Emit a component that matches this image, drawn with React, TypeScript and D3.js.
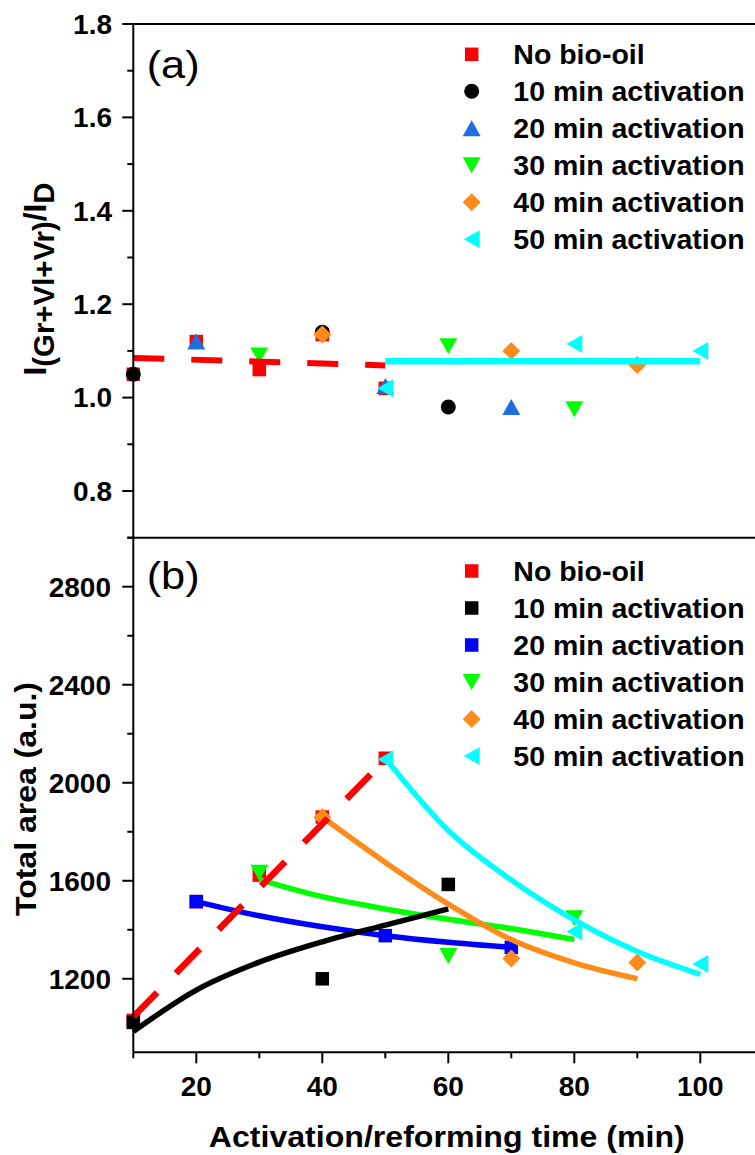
import React from "react";
import * as d3 from "d3";

// ---------- data ----------
const seriesNames = [
  "No bio-oil",
  "10 min activation",
  "20 min activation",
  "30 min activation",
  "40 min activation",
  "50 min activation",
];

// panel (a): I(Gr+Vl+Vr)/ID
const noBioX = [10, 20, 30, 40, 50];
const noBioTopY = [1.05, 1.12, 1.06, 1.135, 1.02];
const act10X = [10, 40, 60];
const act10TopY = [1.05, 1.14, 0.98];
const act20X = [20, 50, 70];
const act20TopY = [1.12, 1.025, 0.98];
const act30X = [30, 60, 80];
const act30TopY = [1.09, 1.11, 0.975];
const act40X = [40, 70, 90];
const act40TopY = [1.135, 1.1, 1.07];
const act50X = [50, 80, 100];
const act50TopY = [1.02, 1.115, 1.1];

const noBioFitTopX = [10, 50];
const noBioFitTopY = [1.085, 1.069];
const act50FitTopX = [50, 100];
const act50FitTopY = [1.078, 1.078];

// panel (b): total area
const noBioBotY = [1030, 1515, 1623, 1860, 2100];
const act10BotY = [1022, 1200, 1585];
const act20BotY = [1515, 1376, 1328];
const act30BotY = [1633, 1293, 1447];
const act40BotY = [1859, 1283, 1266];
const act50BotY = [2095, 1393, 1260];

const noBioFitBotX = [10, 50];
const noBioFitBotY = [1045, 2095];
const fit10X = [10, 20, 30, 40, 50, 60];
const fit10Y = [985, 1154, 1268, 1351, 1419, 1485];
const fit20X = [20, 30, 40, 50, 60, 70];
const fit20Y = [1515, 1457, 1412, 1376, 1349, 1328];
const fit30X = [30, 40, 50, 60, 70, 80];
const fit30Y = [1605, 1535, 1485, 1443, 1405, 1360];
const fit40X = [40, 50, 60, 70, 80, 90];
const fit40Y = [1860, 1675, 1505, 1360, 1265, 1200];
const fit50X = [50, 60, 70, 80, 90, 100];
const fit50Y = [2100, 1805, 1603, 1440, 1311, 1218];

const xTicks = [20, 40, 60, 80, 100];
const xMinorTicks = [10, 30, 50, 70, 90];
const yTopTicks = [0.8, 1.0, 1.2, 1.4, 1.6, 1.8];
const yTopMinor = [0.7, 0.9, 1.1, 1.3, 1.5, 1.7];
const yBotTicks = [1200, 1600, 2000, 2400, 2800];
const yBotMinor = [1000, 1400, 1800, 2200, 2600, 3000];

// ---------- style ----------
const FONT = "'Liberation Sans', Arial, Helvetica, sans-serif";
const RED = "#ff0000";
const BLACK = "#000000";
const BLUE_T = "#1c6fdc";
const BLUE = "#0000ff";
const GREEN = "#00ff00";
const ORANGE = "#ff8c1a";
const CYAN = "#00ffff";

const W = 755;
const H = 1155;

const x = d3.scaleLinear().domain([10, 110]).range([133.3, 763.3]);
const yTop = d3.scaleLinear().domain([0.7, 1.8]).range([537.7, 24]);
const yBot = d3.scaleLinear().domain([900, 3000]).range([1052.3, 537.7]);

type Shape = "square" | "circle" | "up" | "down" | "left" | "diamond";

function Marker({ shape, cx, cy, color }: { shape: Shape; cx: number; cy: number; color: string }) {
  if (shape === "square") return <rect x={cx - 6.75} y={cy - 6.75} width={13.5} height={13.5} fill={color} />;
  if (shape === "circle") return <circle cx={cx} cy={cy} r={7.5} fill={color} />;
  let d = "";
  if (shape === "up") d = `M${cx},${cy - 8}L${cx + 9},${cy + 8}L${cx - 9},${cy + 8}Z`;
  if (shape === "down") d = `M${cx - 9},${cy - 8}L${cx + 9},${cy - 8}L${cx},${cy + 8}Z`;
  if (shape === "left") d = `M${cx - 8},${cy}L${cx + 8},${cy - 9}L${cx + 8},${cy + 9}Z`;
  if (shape === "diamond") d = `M${cx},${cy - 9}L${cx + 9},${cy}L${cx},${cy + 9}L${cx - 9},${cy}Z`;
  return <path d={d} fill={color} />;
}

function Points({ xs, ys, y, shape, color }: { xs: number[]; ys: number[]; y: any; shape: Shape; color: string }) {
  return (
    <g>
      {xs.map((xv, i) => (
        <Marker key={i} shape={shape} cx={x(xv)} cy={y(ys[i])} color={color} />
      ))}
    </g>
  );
}

function Curve({ xs, ys, y, color, width, dash }: { xs: number[]; ys: number[]; y: any; color: string; width: number; dash?: string }) {
  const gen = d3
    .line<number>()
    .x((_, i) => x(xs[i]))
    .y((v) => y(v))
    .curve(d3.curveMonotoneX);
  return <path d={gen(ys) || ""} fill="none" stroke={color} strokeWidth={width} strokeDasharray={dash} />;
}

function Legend({ top, items }: { top: number; items: { shape: Shape; color: string }[] }) {
  const step = 37;
  return (
    <g>
      {items.map((it, i) => (
        <g key={i}>
          <Marker shape={it.shape} cx={471.7} cy={top + i * step} color={it.color} />
          <text x={513.3} y={top + i * step + 10} fontFamily={FONT} fontWeight="bold" fontSize={28.5} fill="#000">
            {seriesNames[i]}
          </text>
        </g>
      ))}
    </g>
  );
}

export default function App() {
  const axisX = x(10);
  const fmtTop = d3.format(".1f");
  return (
    <svg width={W} height={H} style={{ position: "absolute", left: 0, top: 0, background: "#fff" }}>
      <rect x={0} y={0} width={W} height={H} fill="#fff" />

      {/* ---------- panel (a) ---------- */}
      <Points xs={noBioX} ys={noBioTopY} y={yTop} shape="square" color={RED} />
      <Points xs={act10X} ys={act10TopY} y={yTop} shape="circle" color={BLACK} />
      <Points xs={act20X} ys={act20TopY} y={yTop} shape="up" color={BLUE_T} />
      <Points xs={act30X} ys={act30TopY} y={yTop} shape="down" color={GREEN} />
      <Points xs={act40X} ys={act40TopY} y={yTop} shape="diamond" color={ORANGE} />
      <Points xs={act50X} ys={act50TopY} y={yTop} shape="left" color={CYAN} />
      <Curve xs={noBioFitTopX} ys={noBioFitTopY} y={yTop} color={RED} width={6} dash="31,27" />
      <Curve xs={act50FitTopX} ys={act50FitTopY} y={yTop} color={CYAN} width={6.5} />

      <text x={146.7} y={78} fontFamily={FONT} fontSize={38} textLength={53} lengthAdjust="spacingAndGlyphs">(a)</text>
      <Legend
        top={54.3}
        items={[
          { shape: "square", color: RED },
          { shape: "circle", color: BLACK },
          { shape: "up", color: BLUE_T },
          { shape: "down", color: GREEN },
          { shape: "diamond", color: ORANGE },
          { shape: "left", color: CYAN },
        ]}
      />

      {/* ---------- panel (b) ---------- */}
      <Points xs={noBioX} ys={noBioBotY} y={yBot} shape="square" color={RED} />
      <Points xs={act10X} ys={act10BotY} y={yBot} shape="square" color={BLACK} />
      <Points xs={act20X} ys={act20BotY} y={yBot} shape="square" color={BLUE} />
      <Points xs={act30X} ys={act30BotY} y={yBot} shape="down" color={GREEN} />
      <Points xs={act40X} ys={act40BotY} y={yBot} shape="diamond" color={ORANGE} />
      <Points xs={act50X} ys={act50BotY} y={yBot} shape="left" color={CYAN} />
      <Curve xs={fit20X} ys={fit20Y} y={yBot} color={BLUE} width={5.5} />
      <Curve xs={fit30X} ys={fit30Y} y={yBot} color={GREEN} width={5.5} />
      <Curve xs={fit10X} ys={fit10Y} y={yBot} color={BLACK} width={5.5} />
      <Curve xs={fit40X} ys={fit40Y} y={yBot} color={ORANGE} width={5.5} />
      <Curve xs={fit50X} ys={fit50Y} y={yBot} color={CYAN} width={5.5} />
      <Curve xs={noBioFitBotX} ys={noBioFitBotY} y={yBot} color={RED} width={6.5} dash="34,27" />

      <text x={146.7} y={589} fontFamily={FONT} fontSize={38} textLength={53} lengthAdjust="spacingAndGlyphs">(b)</text>
      <Legend
        top={571}
        items={[
          { shape: "square", color: RED },
          { shape: "square", color: BLACK },
          { shape: "square", color: BLUE },
          { shape: "down", color: GREEN },
          { shape: "diamond", color: ORANGE },
          { shape: "left", color: CYAN },
        ]}
      />

      {/* ---------- axes ---------- */}
      <g stroke="#000" strokeWidth={2} fill="none">
        <line x1={axisX} y1={yTop(1.8)} x2={axisX} y2={yBot(900)} />
        <line x1={axisX} y1={yTop(1.8)} x2={W + 5} y2={yTop(1.8)} />
        <line x1={axisX} y1={yBot(3000)} x2={W + 5} y2={yBot(3000)} />
        <line x1={axisX} y1={yBot(900)} x2={W + 5} y2={yBot(900)} />
        {yTopTicks.map((t) => (
          <line key={"yt" + t} x1={axisX - 11} x2={axisX} y1={yTop(t)} y2={yTop(t)} />
        ))}
        {yTopMinor.map((t) => (
          <line key={"ytm" + t} x1={axisX - 6} x2={axisX} y1={yTop(t)} y2={yTop(t)} />
        ))}
        {yBotTicks.map((t) => (
          <line key={"yb" + t} x1={axisX - 11} x2={axisX} y1={yBot(t)} y2={yBot(t)} />
        ))}
        {yBotMinor.map((t) => (
          <line key={"ybm" + t} x1={axisX - 6} x2={axisX} y1={yBot(t)} y2={yBot(t)} />
        ))}
        {xTicks.map((t) => (
          <line key={"xt" + t} x1={x(t)} x2={x(t)} y1={yBot(900)} y2={yBot(900) + 11} />
        ))}
        {xMinorTicks.map((t) => (
          <line key={"xm" + t} x1={x(t)} x2={x(t)} y1={yBot(900)} y2={yBot(900) + 6} />
        ))}
      </g>

      <g fontFamily={FONT} fontWeight="bold" fontSize={28} fill="#000">
        {yTopTicks.map((t) => (
          <text key={"lt" + t} x={112} y={yTop(t) + 9.8} textAnchor="end">
            {fmtTop(t)}
          </text>
        ))}
        {yBotTicks.map((t) => (
          <text key={"lb" + t} x={111} y={yBot(t) + 9.8} textAnchor="end">
            {t}
          </text>
        ))}
        {xTicks.map((t) => (
          <text key={"lx" + t} x={x(t)} y={1095.5} textAnchor="middle">
            {t}
          </text>
        ))}
      </g>

      {/* axis titles */}
      <text
        x={446.8}
        y={1147}
        textAnchor="middle"
        fontFamily={FONT}
        fontWeight="bold"
        fontSize={30}
        textLength={476}
        lengthAdjust="spacingAndGlyphs"
      >
        Activation/reforming time (min)
      </text>
      <text
        transform="translate(36,799) rotate(-90)"
        textAnchor="middle"
        fontFamily={FONT}
        fontWeight="bold"
        fontSize={30}
        textLength={234}
        lengthAdjust="spacingAndGlyphs"
      >
        Total area (a.u.)
      </text>
      <text
        transform="translate(46,279) rotate(-90)"
        textAnchor="middle"
        fontFamily={FONT}
        fontWeight="bold"
        fontSize={31}
        textLength={193}
        lengthAdjust="spacingAndGlyphs"
      >
        <tspan>I</tspan>
        <tspan fontSize={29} dy={8}>(Gr+Vl+Vr)</tspan>
        <tspan dy={-8}>/I</tspan>
        <tspan fontSize={29} dy={8}>D</tspan>
      </text>
    </svg>
  );
}
